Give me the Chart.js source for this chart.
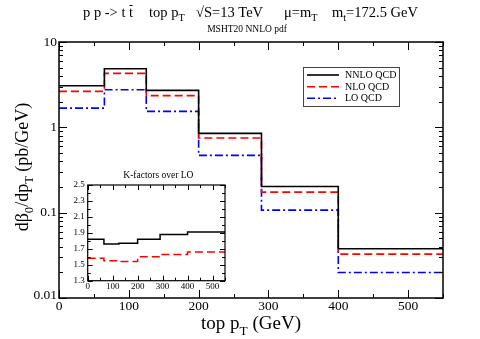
<!DOCTYPE html>
<html>
<head>
<meta charset="utf-8">
<script src="https://cdn.jsdelivr.net/npm/chart.js@4"></script>
<style>
  html, body { margin: 0; padding: 0; background: #fff; }
  #wrap { position: relative; width: 480px; height: 339px; }
  #mainChart { position: absolute; left: 0; top: 0; }
  #insetChart { position: absolute; left: 60px; top: 163px; }
</style>
</head>
<body>
<div id="wrap">
  <canvas id="mainChart" width="480" height="339"></canvas>
  <canvas id="insetChart" width="175" height="137"></canvas>
</div>
<script>
// bin edges in top pT (GeV)
const binEdges = [0, 65, 125, 200, 290, 400, 550];

// d sigma / d pT (pb/GeV) per bin
const nnloValues = [3.07, 4.86, 2.71, 0.85, 0.203, 0.0378];
const nloValues = [2.64, 4.29, 2.35, 0.75, 0.174, 0.0327];
const loValues = [1.68, 2.76, 1.54, 0.469, 0.107, 0.0199];

// K-factors over LO (inset)
const kNnloValues = [1.82, 1.76, 1.77, 1.82, 1.88, 1.91];
const kNloValues = [1.58, 1.55, 1.54, 1.60, 1.63, 1.66];

const xTickValues = [0, 100, 200, 300, 400, 500];
const yDecades = [0.01, 0.1, 1, 10];
const insetYTicks = [1.3, 1.5, 1.7, 1.9, 2.1, 2.3, 2.5];

const serif = '"Liberation Serif", "DejaVu Serif", serif';

// one point per bin edge, last value repeated to close the final bin
function steps(vals) {
    return binEdges.map((x, i) => ({ x: x, y: vals[Math.min(i, vals.length - 1)] }));
}

// text with subscripts: parts = [[text, 'sub'|'']]
function richWidth(ctx, parts, size) {
    let w = 0;
    parts.forEach(p => {
        ctx.font = (p[1] === 'sub' ? size * 0.7 : size) + 'px ' + serif;
        w += ctx.measureText(p[0]).width;
    });
    return w;
}
function drawRich(ctx, parts, x, y, size, align) {
    const w = richWidth(ctx, parts, size);
    let cx = align === 'center' ? x - w / 2 : x;
    ctx.textAlign = 'left';
    ctx.textBaseline = 'alphabetic';
    parts.forEach(p => {
        const sub = p[1] === 'sub';
        ctx.font = (sub ? size * 0.7 : size) + 'px ' + serif;
        ctx.fillText(p[0], cx, sub ? y + size * 0.3 : y);
        cx += ctx.measureText(p[0]).width;
    });
    return w;
}

function line(ctx, x1, y1, x2, y2) {
    ctx.beginPath();
    ctx.moveTo(x1, y1);
    ctx.lineTo(x2, y2);
    ctx.stroke();
}

const mainAxes = {
    id: 'mainAxes',
    afterDraw(chart) {
        const ctx = chart.ctx;
        const a = chart.chartArea;
        const xs = chart.scales.x, ys = chart.scales.y;
        ctx.save();
        ctx.strokeStyle = '#000';
        ctx.fillStyle = '#000';
        ctx.lineWidth = 1.5;
        ctx.strokeRect(a.left, a.top, a.right - a.left, a.bottom - a.top);

        ctx.lineWidth = 1;
        // x ticks, major every 100, minor every 50
        for (let v = 0; v <= 550; v += 50) {
            const px = Math.round(xs.getPixelForValue(v)) + 0.5;
            const len = v % 100 === 0 ? 8 : 4;
            line(ctx, px, a.bottom, px, a.bottom - len);
            line(ctx, px, a.top, px, a.top + len);
        }
        // y log ticks
        yDecades.forEach((d, i) => {
            for (let k = 1; k <= 9; k++) {
                if (i === yDecades.length - 1 && k > 1) break;
                const py = Math.round(ys.getPixelForValue(d * k)) + 0.5;
                const len = k === 1 ? 8 : 4;
                line(ctx, a.left, py, a.left + len, py);
                line(ctx, a.right, py, a.right - len, py);
            }
        });

        // tick labels
        ctx.font = '13.5px ' + serif;
        ctx.textAlign = 'center';
        ctx.textBaseline = 'top';
        xTickValues.forEach(v => ctx.fillText(String(v), xs.getPixelForValue(v), a.bottom + 2));
        ctx.textAlign = 'right';
        ctx.textBaseline = 'middle';
        yDecades.forEach(v => ctx.fillText(String(v), a.left - 2, ys.getPixelForValue(v) - (v === 0.01 ? 3 : 0)));

        // titles
        const ts = 14.5;
        const gx = [83, 149, 196, 284, 332];
        drawRich(ctx, [['p p -> t t', '']], gx[0], 17, ts, 'left');
        ctx.font = ts + 'px ' + serif;
        const wPre = ctx.measureText('p p -> t ').width;
        const wt = ctx.measureText('t').width;
        ctx.lineWidth = 1;
        line(ctx, gx[0] + wPre + 0.5, 5.5, gx[0] + wPre + wt - 0.5, 5.5);
        drawRich(ctx, [['top p', ''], ['T', 'sub']], gx[1], 17, ts, 'left');
        drawRich(ctx, [['\u221AS=13 TeV', '']], gx[2], 17, ts, 'left');
        drawRich(ctx, [['\u03BC=m', ''], ['T', 'sub']], gx[3], 17, ts, 'left');
        drawRich(ctx, [['m', ''], ['t', 'sub'], ['=172.5 GeV', '']], gx[4], 17, ts, 'left');

        drawRich(ctx, [['MSHT20 NNLO pdf', '']], 247, 32, 9.5, 'center');

        drawRich(ctx, [['top p', ''], ['T', 'sub'], [' (GeV)', '']], 251, 329, 19, 'center');

        ctx.save();
        ctx.translate(28, (a.top + a.bottom) / 2 - 3);
        ctx.rotate(-Math.PI / 2);
        drawRich(ctx, [['d\u03B2', ''], ['0', 'sub'], ['/dp', ''], ['T', 'sub'], [' (pb/GeV)', '']], 0, 0, 18, 'center');
        ctx.restore();

        // legend
        ctx.strokeStyle = '#444';
        ctx.lineWidth = 1;
        ctx.strokeRect(303.5, 67.5, 96, 39);
        const rows = [75, 86.7, 98.3];
        chart.data.datasets.forEach((ds, i) => {
            ctx.strokeStyle = ds.borderColor;
            ctx.lineWidth = ds.borderWidth;
            ctx.setLineDash(ds.borderDash || []);
            line(ctx, 307, rows[i], 339, rows[i]);
            ctx.setLineDash([]);
            ctx.fillStyle = '#000';
            ctx.font = '10px ' + serif;
            ctx.textAlign = 'left';
            ctx.textBaseline = 'middle';
            ctx.fillText(ds.label, 345, rows[i] + 0.5);
        });
        ctx.restore();
    }
};

new Chart(document.getElementById('mainChart'), {
    type: 'line',
    data: {
        datasets: [
            { label: 'NNLO QCD', data: steps(nnloValues), borderColor: '#000000', borderWidth: 1.6, stepped: 'before', pointRadius: 0 },
            { label: 'NLO QCD', data: steps(nloValues), borderColor: '#ff0000', borderWidth: 1.6, borderDash: [8, 4], stepped: 'before', pointRadius: 0 },
            { label: 'LO QCD', data: steps(loValues), borderColor: '#0000ff', borderWidth: 1.6, borderDash: [8, 3, 2, 3], stepped: 'before', pointRadius: 0 }
        ]
    },
    options: {
        responsive: false,
        animation: false,
        devicePixelRatio: 1,
        layout: { padding: { left: 59, right: 37, top: 42, bottom: 41 } },
        scales: {
            x: { type: 'linear', min: 0, max: 550, display: false },
            y: { type: 'logarithmic', min: 0.01, max: 10, display: false }
        },
        plugins: { legend: { display: false }, tooltip: { enabled: false } }
    },
    plugins: [mainAxes]
});

const insetAxes = {
    id: 'insetAxes',
    beforeDraw(chart) {
        const ctx = chart.ctx;
        const a = chart.chartArea;
        ctx.save();
        ctx.fillStyle = '#fff';
        ctx.fillRect(a.left, a.top, a.right - a.left, a.bottom - a.top);
        ctx.restore();
    },
    afterDraw(chart) {
        const ctx = chart.ctx;
        const a = chart.chartArea;
        const xs = chart.scales.x, ys = chart.scales.y;
        ctx.save();
        ctx.strokeStyle = '#000';
        ctx.fillStyle = '#000';
        ctx.lineWidth = 1.2;
        ctx.strokeRect(a.left, a.top, a.right - a.left, a.bottom - a.top);
        ctx.lineWidth = 1;
        for (let v = 0; v <= 550; v += 50) {
            const px = Math.round(xs.getPixelForValue(v)) + 0.5;
            const len = v % 100 === 0 ? 5 : 3;
            line(ctx, px, a.bottom, px, a.bottom - len);
            line(ctx, px, a.top, px, a.top + len);
        }
        for (let k = 13; k <= 25; k++) {
            const py = Math.round(ys.getPixelForValue(k / 10)) + 0.5;
            const len = k % 2 === 1 ? 5 : 3;
            line(ctx, a.left, py, a.left + len, py);
            line(ctx, a.right, py, a.right - len, py);
        }
        ctx.font = '9px ' + serif;
        ctx.textAlign = 'center';
        ctx.textBaseline = 'top';
        xTickValues.forEach(v => ctx.fillText(String(v), xs.getPixelForValue(v), a.bottom + 1.5));
        ctx.textAlign = 'right';
        ctx.textBaseline = 'middle';
        insetYTicks.forEach(v => ctx.fillText(v.toFixed(1), a.left - 3, ys.getPixelForValue(v)));
        drawRich(ctx, [['K-factors over LO', '']], (a.left + a.right) / 2 + 2, a.top - 7, 9.5, 'center');
        ctx.restore();
    }
};

new Chart(document.getElementById('insetChart'), {
    type: 'line',
    data: {
        datasets: [
            { label: 'NNLO/LO', data: steps(kNnloValues), borderColor: '#000000', borderWidth: 1.5, stepped: 'before', pointRadius: 0 },
            { label: 'NLO/LO', data: steps(kNloValues), borderColor: '#ff0000', borderWidth: 1.5, borderDash: [8, 4], stepped: 'before', pointRadius: 0 }
        ]
    },
    options: {
        responsive: false,
        animation: false,
        devicePixelRatio: 1,
        layout: { padding: { left: 27.7, right: 10, top: 22, bottom: 19.3 } },
        scales: {
            x: { type: 'linear', min: 0, max: 550, display: false },
            y: { type: 'linear', min: 1.3, max: 2.5, display: false }
        },
        plugins: { legend: { display: false }, tooltip: { enabled: false } }
    },
    plugins: [insetAxes]
});
</script>
</body>
</html>
